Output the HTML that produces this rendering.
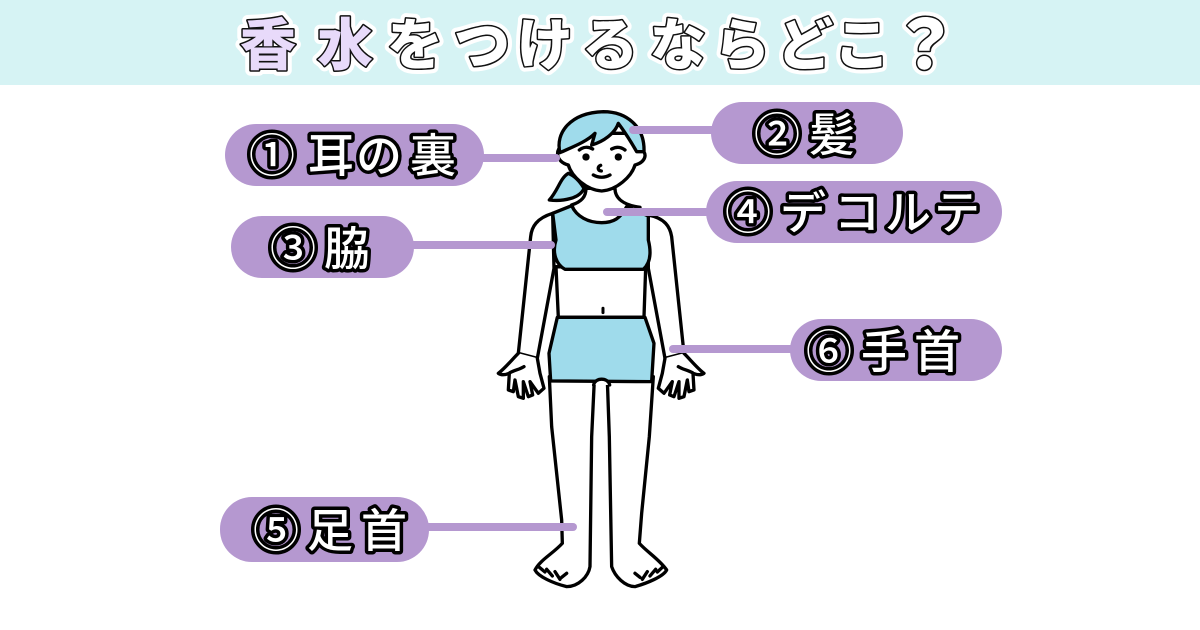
<!DOCTYPE html>
<html lang="ja"><head><meta charset="utf-8"><style>
html,body{margin:0;padding:0;background:#fff}
svg{display:block}
text{font-family:"Liberation Sans","Noto Sans CJK JP",sans-serif;text-anchor:middle;stroke-linejoin:round;paint-order:stroke}
.l{font-size:46px;font-weight:500;fill:#fff;stroke:#000;stroke-width:7px}
.t0{font-size:56px;font-weight:900;fill:#fff;stroke:#fff;stroke-width:11px}
.t1{font-size:56px;font-weight:900;fill:#fff;stroke:#111;stroke-width:3px}
.b{fill:none;stroke:#000;stroke-width:10;stroke-linecap:round;stroke-linejoin:round}
.f{fill:#fff;stroke:#000;stroke-width:10;stroke-linecap:round;stroke-linejoin:round}
.c{fill:#9fdbeb;stroke:#000;stroke-width:10;stroke-linejoin:round;stroke-linecap:round}
</style></head><body>
<svg width="1200" height="630" viewBox="0 0 1200 630" xmlns="http://www.w3.org/2000/svg">
<defs>
<g id="hand">
<path class="f" d="M115 790 C95 810 75 835 55 850 C70 860 85 850 88 850 L85 900 L100 905 L105 870 L115 920 L130 925 L130 875 L145 920 L158 915 L150 875 L175 910 L192 895 L180 850 L172 805"/>
<path class="b" d="M90 848 C105 840 120 838 132 830"/>
</g>
</defs>
<rect width="1200" height="630" fill="#fff"/>
<rect width="1200" height="85" fill="#d6f3f4"/>

<text class="t0" x="268" y="65">香</text><text class="t0" x="345" y="65">水</text><text class="t0" x="415" y="65">を</text><text class="t0" x="482" y="65">つ</text><text class="t0" x="545" y="65">け</text><text class="t0" x="610" y="65">る</text><text class="t0" x="678" y="65">な</text><text class="t0" x="742" y="65">ら</text><text class="t0" x="805" y="65">ど</text><text class="t0" x="862" y="65">こ</text><text class="t0" x="925" y="69" style="font-size:68px">？</text>
<text class="t1" x="268" y="65" style="fill:#e8dafa">香</text><text class="t1" x="345" y="65" style="fill:#e8dafa">水</text><text class="t1" x="415" y="65">を</text><text class="t1" x="482" y="65">つ</text><text class="t1" x="545" y="65">け</text><text class="t1" x="610" y="65">る</text><text class="t1" x="678" y="65">な</text><text class="t1" x="742" y="65">ら</text><text class="t1" x="805" y="65">ど</text><text class="t1" x="862" y="65">こ</text><text class="t1" x="925" y="69" style="font-size:68px">？</text>

<!-- legs -->
<g transform="translate(500 370) scale(.3333)">
<path class="f" d="M148 20 L155 170 L185 450 L187 520 C160 550 120 570 105 600 C115 620 160 640 200 650 C235 650 265 620 270 590 L275 200 L283 30 C290 18 315 18 322 30 L328 200 L335 590 C345 620 375 650 405 650 C440 640 490 620 500 600 C480 570 440 545 418 520 L425 430 L448 200 L460 20"/>
<path class="b" d="M118 592 L135 606 M140 598 L157 618 M165 605 L180 628 M200 610 L185 622 M487 592 L472 606 M467 598 L450 618 M442 605 L427 628 M405 610 L420 622" stroke-width="8"/>
</g>

<!-- upper body -->
<g transform="translate(480 90) scale(.3333)">
<!-- arms -->
<path class="f" d="M218 370 C170 385 155 410 152 440 L115 790 L172 805 L222 535 Z"/>
<path class="f" d="M505 375 C555 385 570 410 575 440 L612 790 L555 805 L505 535 Z"/>
<use href="#hand"/>
<use href="#hand" transform="translate(727 0) scale(-1 1)"/>
<!-- torso -->
<path class="f" d="M228 530 L235 682 L492 682 L497 535 Z"/>
<!-- ponytail -->
<path class="c" d="M265 250 C240 265 235 300 208 330 C250 335 300 325 312 295 C300 275 285 258 265 250Z"/>
<!-- neck + chest -->
<path class="f" d="M318 295 C318 320 305 335 275 345 L300 400 L440 400 L480 352 C430 345 405 325 405 295 Z"/>
<!-- top -->
<path class="c" d="M218 370 L275 347 C290 380 325 398 365 398 C400 398 422 385 440 350 L505 378 L505 450 C515 490 510 520 490 538 L255 538 C230 525 215 490 228 450 Z"/>
<!-- shorts -->
<path class="c" d="M232 682 L495 682 L522 760 L515 875 L212 873 L207 790 Z"/>
<path d="M341 885 C345 862 385 862 389 885 Z" fill="#fff"/>
<path class="b" d="M341 885 C345 862 385 862 389 885"/>
<path d="M369 655 V668" stroke="#000" stroke-width="9" stroke-linecap="round"/>
<!-- face -->
<path class="f" d="M250 165 C225 175 225 215 265 225 C275 260 320 300 365 303 C410 300 455 260 465 225 C505 215 500 180 480 180 L440 130 L300 130 Z"/>
<!-- hair -->
<path class="c" d="M240 188 C225 130 270 68 370 65 C440 65 495 110 492 185 L470 185 C450 150 430 120 415 100 C405 130 370 155 335 165 L345 130 C320 155 280 170 240 188Z"/>
<circle cx="318" cy="201" r="11"/><circle cx="415" cy="201" r="11"/>
<path class="b" d="M298 180 C310 170 325 170 338 177 M395 177 C408 170 422 170 435 180" stroke-width="6"/>
<path class="b" d="M362 226 C352 230 352 242 364 243" stroke-width="6"/>
<path class="b" d="M340 255 C355 264 375 264 390 255" stroke-width="7"/>
</g>

<!-- connector lines -->
<g stroke="#b598d0" stroke-width="8" stroke-linecap="round" fill="none">
<path d="M482 158 H556"/>
<path d="M633 130 H715"/>
<path d="M607 212 H712"/>
<path d="M412 245 H551"/>
<path d="M673 349 H795"/>
<path d="M425 527 H573"/>
</g>
<!-- pills -->
<g fill="#b598d0">
<rect x="225" y="124" width="259" height="62" rx="31"/>
<rect x="711" y="102" width="192" height="62" rx="31"/>
<rect x="706" y="181" width="296" height="62" rx="31"/>
<rect x="231" y="216" width="183" height="62" rx="31"/>
<rect x="790" y="319" width="212" height="62" rx="31"/>
<rect x="220" y="497" width="209" height="65" rx="32"/>
</g>
<!-- labels -->
<text class="l" x="272" y="172">①</text><text class="l" x="331" y="172">耳</text><text class="l" x="379" y="172">の</text><text class="l" x="433" y="172">裏</text>
<text class="l" x="777" y="151">②</text><text class="l" x="832" y="151">髪</text>
<text class="l" x="748" y="229">④</text><text class="l" x="803" y="229">デ</text><text class="l" x="857" y="229">コ</text><text class="l" x="908" y="229">ル</text><text class="l" x="957" y="229">テ</text>
<text class="l" x="293" y="265">③</text><text class="l" x="347" y="265">脇</text>
<text class="l" x="829" y="368">⑥</text><text class="l" x="884" y="368">手</text><text class="l" x="937" y="368">首</text>
<text class="l" x="276" y="547">⑤</text><text class="l" x="330" y="547">足</text><text class="l" x="384" y="547">首</text>
</svg>
</body></html>
